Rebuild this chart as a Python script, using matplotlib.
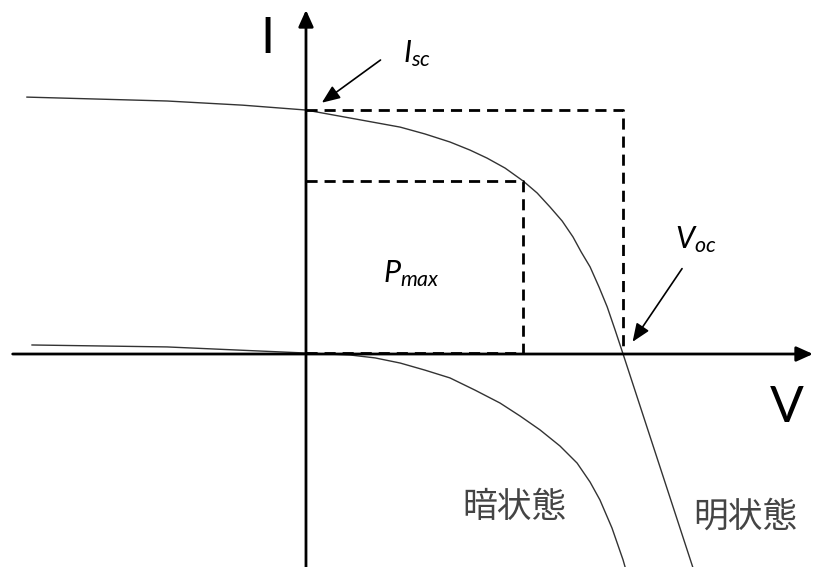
import matplotlib
matplotlib.use("Agg")
import matplotlib.pyplot as plt

plt.rcParams['mathtext.fontset'] = 'custom'
plt.rcParams['mathtext.it'] = 'Lato:italic'
plt.rcParams['mathtext.rm'] = 'Lato'

# normalised units: Voc = 1, Isc = 1
v_light = [-0.88, -0.438, -0.2, 0.0, 0.085, 0.17, 0.297, 0.375, 0.454, 0.517,
           0.571, 0.628, 0.685, 0.729, 0.77, 0.808, 0.842, 0.868, 0.896, 0.924,
           0.95, 0.975, 1.0, 1.233]
i_light = [1.053, 1.037, 1.02, 1.0, 0.98, 0.96, 0.93, 0.902, 0.869, 0.836,
           0.803, 0.762, 0.709, 0.66, 0.602, 0.545, 0.48, 0.418, 0.357, 0.275,
           0.193, 0.098, 0.0, -0.926]

v_dark = [-0.864, -0.438, -0.177, 0.0, 0.139, 0.218, 0.297, 0.375, 0.454,
          0.533, 0.612, 0.675, 0.738, 0.801, 0.855, 0.896, 0.927, 0.965, 1.0,
          1.009]
i_dark = [0.037, 0.029, 0.014, 0.004, -0.004, -0.016, -0.037, -0.066, -0.098,
          -0.148, -0.201, -0.254, -0.311, -0.377, -0.447, -0.525, -0.598,
          -0.713, -0.844, -0.885]

v_oc = 1.0
i_sc = 1.0
v_mp = 0.685
i_mp = 0.709

fig = plt.figure(figsize=(8.13, 5.67), dpi=100)
ax = fig.add_axes([0, 0, 1, 1])
ax.set_xlim(-0.965, 1.599)
ax.set_ylim(-0.873, 1.451)
ax.axis('off')

# axes with arrow heads
ax.annotate('', xy=(1.599, 0), xytext=(-0.925, 0),
            arrowprops=dict(arrowstyle='-|>,head_length=1.0,head_width=0.45',
                            color='black', lw=2, shrinkA=0, shrinkB=0))
ax.annotate('', xy=(0, 1.41), xytext=(0, -0.873),
            arrowprops=dict(arrowstyle='-|>,head_length=1.0,head_width=0.45',
                            color='black', lw=2, shrinkA=0, shrinkB=0))

# curves
ax.plot(v_light, i_light, color='#333333', lw=1.0)
ax.plot(v_dark, i_dark, color='#333333', lw=1.0)

# Isc / Voc box and Pmax box
dash = dict(color='black', lw=2, linestyle=(0, (4, 2.5)))
ax.plot([0, v_oc, v_oc], [i_sc, i_sc, 0], **dash)
ax.plot([0, v_mp, v_mp], [i_mp, i_mp, 0], **dash)
ax.plot([0, v_mp], [0.006, 0.006], **dash)

# labels
ax.text(-0.122, 1.29, 'I', fontsize=36, family='Lato', ha='center', va='center')
ax.text(1.515, -0.22, 'V', fontsize=36, family='Lato', ha='center', va='center')
ax.text(0.305, 1.23, r'$I_{sc}$', fontsize=22, ha='left', va='center')
ax.text(1.165, 0.47, r'$V_{oc}$', fontsize=22, ha='left', va='center')
ax.text(0.243, 0.33, r'$P_{max}$', fontsize=22, ha='left', va='center')

ax.annotate('', xy=(0.05, 1.03), xytext=(0.235, 1.205),
            arrowprops=dict(arrowstyle='-|>,head_length=1.1,head_width=0.45',
                            color='black', lw=1.2, shrinkA=0, shrinkB=0))
ax.annotate('', xy=(1.03, 0.05), xytext=(1.186, 0.35),
            arrowprops=dict(arrowstyle='-|>,head_length=1.1,head_width=0.45',
                            color='black', lw=1.2, shrinkA=0, shrinkB=0))

cjk = ['Noto Sans CJK JP', 'DejaVu Sans']
ax.text(0.493, -0.628, '暗状態', fontsize=25, family=cjk, color='#444444',
        ha='left', va='center')
ax.text(1.221, -0.67, '明状態', fontsize=25, family=cjk, color='#444444',
        ha='left', va='center')

fig.savefig('out.png', dpi=100)
